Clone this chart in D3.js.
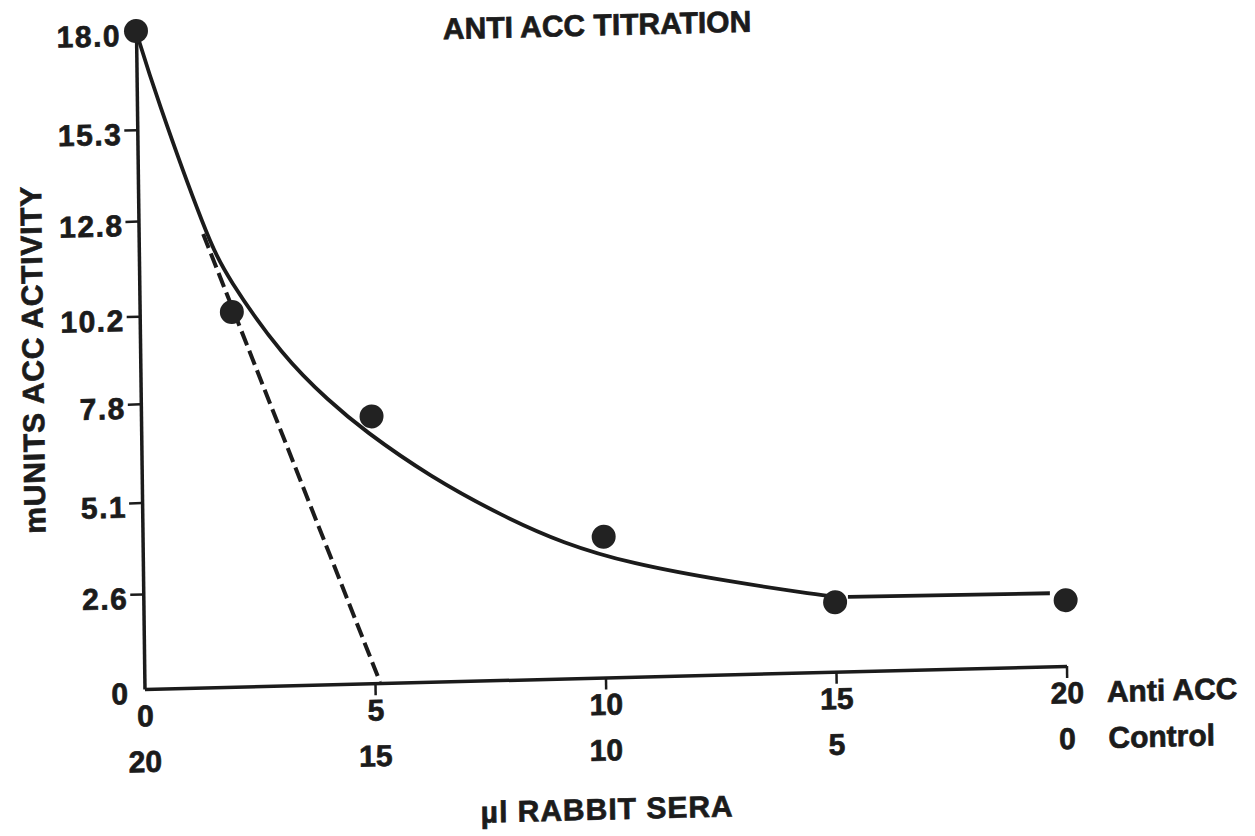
<!DOCTYPE html>
<html>
<head>
<meta charset="utf-8">
<script src="https://cdn.jsdelivr.net/npm/d3@7"></script>
<style>
  html, body { margin: 0; padding: 0; background: #fff; }
  svg { display: block; }
  text {
    font-family: "Liberation Sans", Arial, Helvetica, sans-serif; font-weight: bold;
    fill: #1b1b1b; stroke: #1b1b1b; stroke-width: 0.7px; paint-order: stroke;
  }
</style>
</head>
<body>
<svg id="chart" width="1255" height="836"></svg>
<script>
// Measured enzyme activity per serum mix (µl anti-ACC serum, remainder control serum)
const doseAnti = [0, 2, 5, 10, 15, 20];
const activity = [18.0, 10.25, 7.3, 3.85, 1.9, 1.8];

// Hand-fitted titration curve
const fitX = [0, 0.41, 1.48, 1.90, 3.10, 4.10, 4.82, 6.25, 7.83, 9.12, 10.56, 12.73, 14.67, 15.0];
const fitY = [18.0, 16.23, 12.32, 11.21, 8.98, 7.73, 6.93, 5.61, 4.47, 3.70, 3.10, 2.53, 2.11, 2.06];

// Plateau segment between the last two doses
const plateauX = [15.28, 19.66];
const plateauY = [2.04, 2.0];

// Extrapolated initial slope (dashed)
const slopeX = [1.4, 5.11];
const slopeY = [12.4, 0.03];

// Axis ticks
const yTickValues = [0, 2.6, 5.1, 7.8, 10.2, 12.8, 15.3, 18.0];
const yTickLabels = ["0", "2.6", "5.1", "7.8", "10.2", "12.8", "15.3", "18.0"];
const xTickValues = [0, 5, 10, 15, 20];
const antiLabels = ["0", "5", "10", "15", "20"];
const controlLabels = ["20", "15", "10", "5", "0"];

const W = 922, H = 658;
const ink = "#1b1b1b";

const svg = d3.select("#chart");
// the whole figure sits on a slightly sheared sheet
const g = svg.append("g").attr("transform", "matrix(1,-0.025,0.0129,1,136,31)");

const x = d3.scaleLinear().domain([0, 20]).range([0, W]);
const y = d3.scaleLinear().domain([0, 18]).range([H, 0]);

// Y axis
const yAxis = d3.axisLeft(y)
  .tickValues(yTickValues)
  .tickFormat((d, i) => yTickLabels[i])
  .tickSize(13).tickSizeOuter(0).tickPadding(2);
const ya = g.append("g").call(yAxis);
ya.select(".domain").attr("stroke", ink).attr("stroke-width", 3.5);
ya.selectAll(".tick line").attr("stroke", ink).attr("stroke-width", 2.5)
  .filter(d => d === 0 || d === 18).remove();
ya.selectAll(".tick text").attr("font-size", 30).attr("dy", "0.47em")
  .style("letter-spacing", "1.5px").style("fill", ink);

// X axis
const xAxis = d3.axisBottom(x)
  .tickValues(xTickValues)
  .tickFormat((d, i) => antiLabels[i])
  .tickSize(12).tickSizeOuter(0).tickPadding(4);
const xa = g.append("g").attr("transform", `translate(0,${H})`).call(xAxis);
xa.select(".domain").attr("stroke", ink).attr("stroke-width", 3.5);
xa.selectAll(".tick line").attr("stroke", ink).attr("stroke-width", 2.5)
  .filter(d => d === 0).remove();
xa.selectAll(".tick text").attr("font-size", 30).attr("y", 16).attr("dy", "0.71em").style("fill", ink);

// Second row of x labels: control serum volume
g.append("g").selectAll("text").data(xTickValues).join("text")
  .attr("x", d => x(d))
  .attr("y", H + 83)
  .attr("text-anchor", "middle")
  .attr("font-size", 30)
  .text((d, i) => controlLabels[i]);

g.append("text").attr("x", x(20) + 40).attr("y", H + 37)
  .attr("font-size", 30).text("Anti ACC");
g.append("text").attr("x", x(20) + 41).attr("y", H + 83)
  .attr("font-size", 30).text("Control");

// Axis titles
g.append("text").attr("x", x(10)).attr("y", H + 142)
  .attr("text-anchor", "middle").attr("font-size", 30)
  .style("letter-spacing", "1px")
  .text("µl RABBIT SERA");

g.append("text").attr("transform", `translate(-97,${y(9) - 3}) rotate(-90)`)
  .attr("text-anchor", "middle").attr("font-size", 30)
  .style("letter-spacing", "0.8px")
  .text("mUNITS ACC ACTIVITY");

g.append("text").attr("x", x(10)).attr("y", 16)
  .attr("text-anchor", "middle").attr("font-size", 30)
  .text("ANTI ACC TITRATION");

// Lines
const line = d3.line().x(d => x(d[0])).y(d => y(d[1]));

g.append("path")
  .datum(d3.zip(slopeX, slopeY))
  .attr("d", line)
  .attr("fill", "none").attr("stroke", ink)
  .attr("stroke-width", 4).attr("stroke-dasharray", "15,6");

// smoothed through the traced curve points
g.append("path")
  .datum(d3.zip(fitX, fitY))
  .attr("d", d3.line().x(d => x(d[0])).y(d => y(d[1])).curve(d3.curveBasis))
  .attr("fill", "none").attr("stroke", ink).attr("stroke-width", 3.8);

g.append("path")
  .datum(d3.zip(plateauX, plateauY))
  .attr("d", line)
  .attr("fill", "none").attr("stroke", ink).attr("stroke-width", 3.8);

// Data points
g.append("g").selectAll("circle").data(d3.zip(doseAnti, activity)).join("circle")
  .attr("cx", d => x(d[0]))
  .attr("cy", d => y(d[1]))
  .attr("r", 12)
  .attr("fill", "#222");
</script>
</body>
</html>
